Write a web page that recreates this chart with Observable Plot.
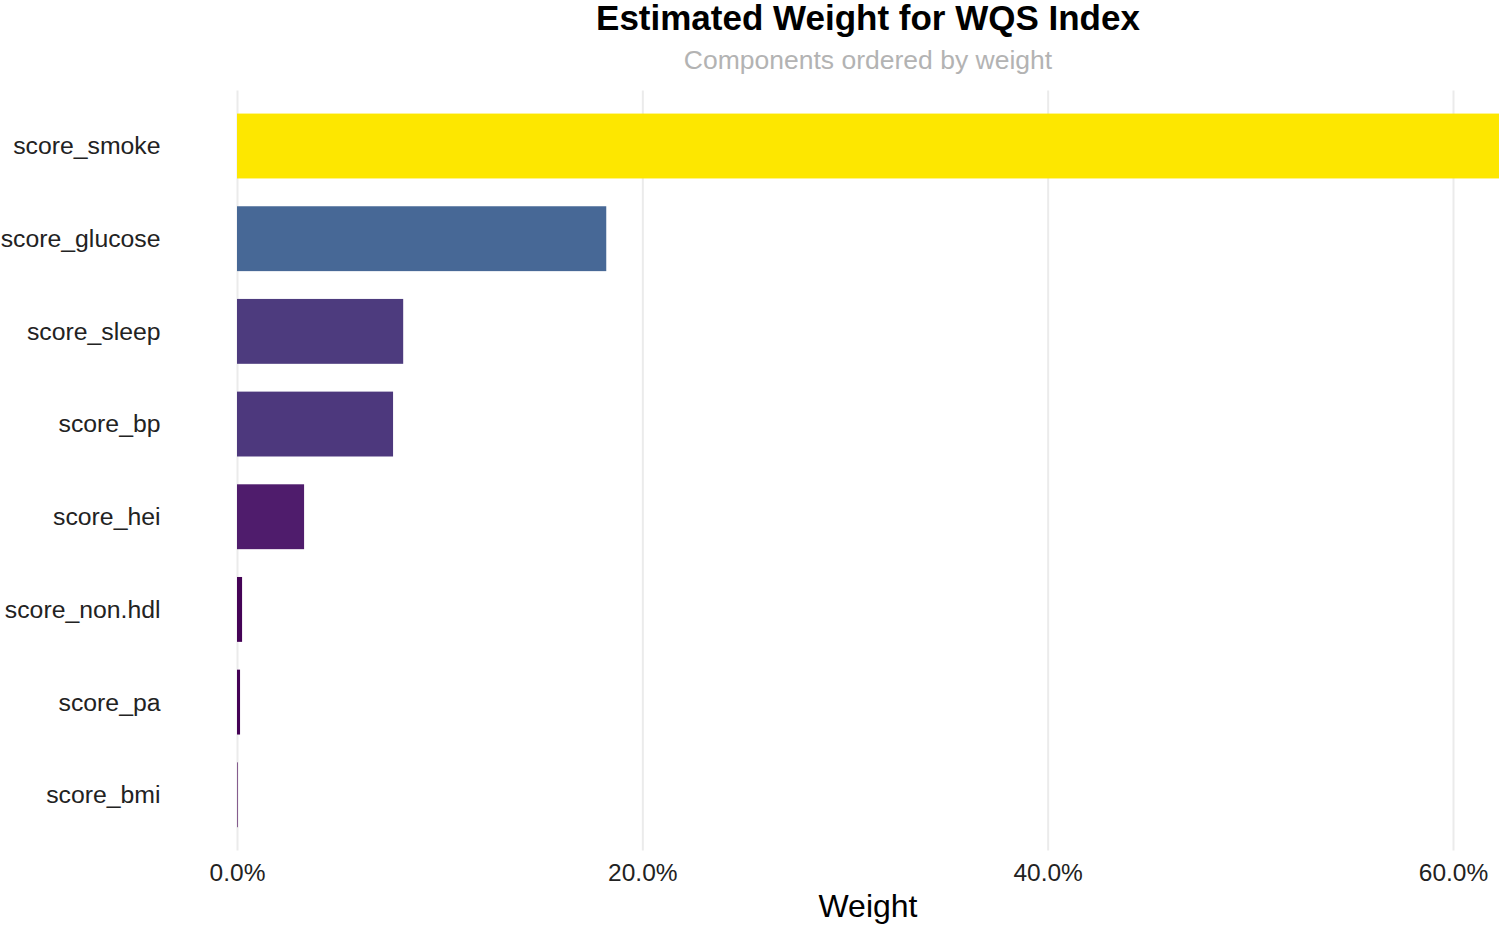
<!DOCTYPE html>
<html>
<head>
<meta charset="utf-8">
<script src="https://cdn.jsdelivr.net/npm/d3@7"></script>
<script src="https://cdn.jsdelivr.net/npm/@observablehq/plot@0.6"></script>
<style>
  html, body { margin: 0; padding: 0; background: #fff; }
  body { width: 1499px; height: 926px; overflow: hidden; position: relative; font-family: "Liberation Sans", Arial, sans-serif; }
  .t { position: absolute; left: 237px; width: 1262px; text-align: center; line-height: 1.1; white-space: nowrap; }
  #title { top: 0px; font-size: 35px; font-weight: bold; color: #000; line-height: 1.0; }
  #subtitle { top: 47px; font-size: 26.5px; color: #B3B3B3; line-height: 1; }
  #xlabel { top: 890px; font-size: 32px; color: #000; line-height: 1; }
  #chart { position: absolute; left: 0; top: 80px; }
  #chart svg { display: block; }
</style>
</head>
<body>
<div id="title" class="t">Estimated Weight for WQS Index</div>
<div id="subtitle" class="t">Components ordered by weight</div>
<div id="chart"></div>
<div id="xlabel" class="t">Weight</div>
<script>
const components = ["score_smoke", "score_glucose", "score_sleep", "score_bp", "score_hei", "score_non.hdl", "score_pa", "score_bmi"];
const weights = [0.6227, 0.1822, 0.0820, 0.0770, 0.0331, 0.0025, 0.0015, 0.0003];
const xTicks = [0, 0.2, 0.4, 0.6];
const colorStops = [0, 0.0331, 0.08, 0.1822, 0.6227];
const colorRange = ["#440154", "#4F1C6C", "#4D3A7E", "#476896", "#FDE700"];

const data = components.map((c, i) => ({component: c, weight: weights[i]}));

const chart = Plot.plot({
  width: 1499,
  height: 818.4,
  marginLeft: 237,
  marginRight: 0,
  marginTop: 10.4,
  marginBottom: 48,
  style: {fontFamily: "Liberation Sans, Arial, sans-serif", fontSize: "25px", color: "#222", background: "#fff"},
  x: {domain: [0, d3.max(weights)], ticks: xTicks, tickFormat: d3.format(".1%"), label: null},
  y: {domain: components, paddingInner: 0.3, paddingOuter: 0.25, round: false, label: null},
  color: {type: "linear", domain: colorStops, range: colorRange, interpolate: "rgb"},
  marks: [
    Plot.gridX(xTicks, {stroke: "#EBEBEB", strokeOpacity: 1, strokeWidth: 2}),
    Plot.barX(data, {x: "weight", y: "component", fill: "weight"}),
    Plot.axisX({ticks: xTicks, tickSize: 0, tickPadding: 13, tickFormat: d3.format(".1%"), label: null, fontSize: 24.5}),
    Plot.axisY({tickSize: 0, tickPadding: 77, label: null, fontSize: 24.8})
  ]
});
document.getElementById("chart").appendChild(chart);
</script>
</body>
</html>
